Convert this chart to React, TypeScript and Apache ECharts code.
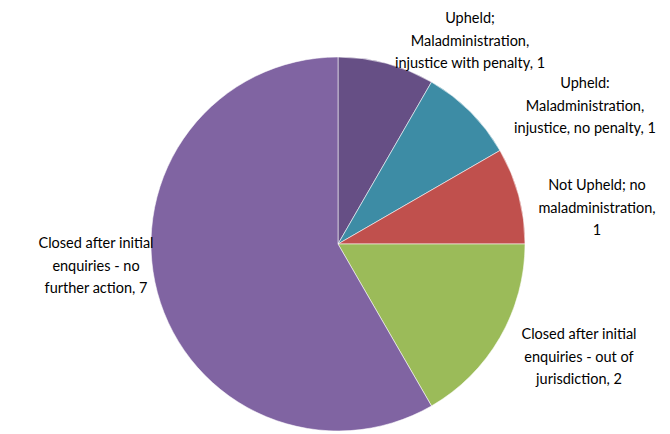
import React, { useEffect, useRef } from "react";
import * as echarts from "echarts";

const categories = [
  "Upheld;\nMaladministration,\ninjustice with penalty",
  "Upheld:\nMaladministration,\ninjustice, no penalty",
  "Not Upheld; no\nmaladministration",
  "Closed after initial\nenquiries - out of\njurisdiction",
  "Closed after initial\nenquiries - no\nfurther action",
];
const values = [1, 1, 1, 2, 7];
const colors = ["#664F85", "#3D8CA5", "#C0504D", "#9BBB59", "#8064A2"];
// label anchor points (label centres) for best-fit placement
const labelX = [470, 585, 597, 579, 96];
const labelY = [40, 105, 207, 356, 265];
const labelSep = [" ", " ", "\n", " ", " "];

export default function App() {
  const ref = useRef<HTMLDivElement>(null);
  useEffect(() => {
    if (!ref.current) return;
    const chart = echarts.init(ref.current, null, { renderer: "svg" });
    chart.setOption({
      animation: false,
      backgroundColor: "#ffffff",
      series: [
        {
          type: "pie",
          center: [338, 244],
          radius: 187,
          startAngle: 90,
          clockwise: true,
          avoidLabelOverlap: false,
          data: categories.map((c, i) => ({
            name: c,
            value: values[i],
            itemStyle: { color: colors[i] },
          })),
          itemStyle: { borderColor: "rgba(255,255,255,0.55)", borderWidth: 1 },
          label: {
            show: true,
            position: "outside",
            alignTo: "none",
            overflow: "none",
            formatter: (p: any) => `${p.name},${labelSep[p.dataIndex]}${p.value}`,
            fontFamily: "Lato",
            fontSize: 14.5,
            lineHeight: 22.5,
            color: "#000000",
            align: "center",
          },
          labelLine: { show: false },
          labelLayout: (p: any) => ({
            x: labelX[p.dataIndex],
            y: labelY[p.dataIndex],
            align: "center",
            verticalAlign: "middle",
          }),
          emphasis: { disabled: true },
        },
      ],
    });
    return () => chart.dispose();
  }, []);
  return (
    <div
      ref={ref}
      style={{ position: "fixed", left: 0, top: 0, width: 670, height: 434 }}
    />
  );
}
